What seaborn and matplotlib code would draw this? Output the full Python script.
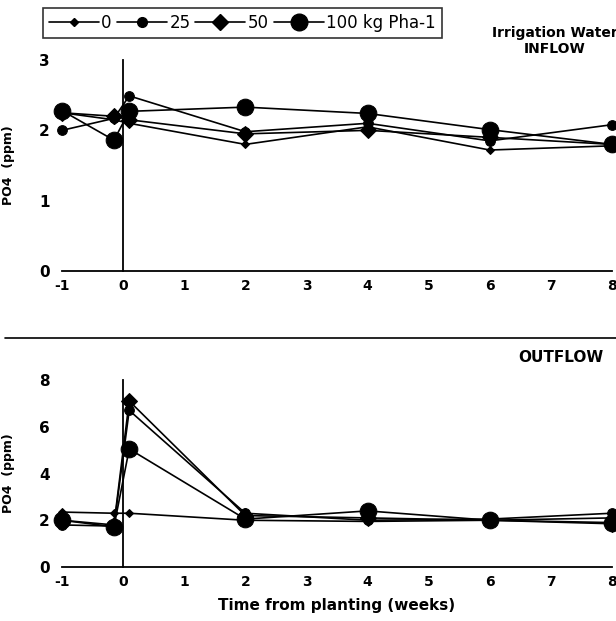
import pandas as pd
import seaborn as sns
import matplotlib.pyplot as plt
from matplotlib.lines import Line2D

# sampling times (weeks from planting)
weeks = [-1, -0.15, 0.1, 2, 4, 6, 8]
doses = ["0", "25", "50", "100 kg Pha-1"]

# irrigation water inflow, PO4 (ppm)
inflow_0 = [2.25, 2.15, 2.10, 1.80, 2.05, 1.72, 1.78]
inflow_25 = [2.00, 2.17, 2.49, 1.98, 2.10, 1.85, 2.08]
inflow_50 = [2.25, 2.20, 2.15, 1.95, 2.00, 1.90, 1.80]
inflow_100 = [2.28, 1.86, 2.27, 2.33, 2.24, 2.01, 1.80]

# outflow, PO4 (ppm)
outflow_0 = [2.35, 2.30, 2.30, 2.00, 1.95, 2.00, 2.10]
outflow_25 = [1.80, 1.75, 6.70, 2.30, 2.00, 2.05, 2.30]
outflow_50 = [2.00, 1.80, 7.10, 2.20, 2.10, 2.00, 1.85]
outflow_100 = [2.00, 1.72, 5.05, 2.05, 2.40, 2.00, 1.90]

x_ticks = list(range(-1, 9))
x_labels = ["-1", "0", "1", "2", "3", "4", "5", "6", "7", "8"]

# marker per dose
markers = {"0": ("D", 4), "25": ("o", 7), "50": ("D", 8), "100 kg Pha-1": ("o", 12)}

sns.set_theme(style="white")
plt.rcParams["font.family"] = ["DejaVu Sans"]
plt.rcParams["text.color"] = "black"
plt.rcParams["axes.labelcolor"] = "black"

fig = plt.figure(figsize=(6.16, 6.21), dpi=100)
ax_in = fig.add_axes([62 / 616, 1 - 271 / 621, 550 / 616, 211 / 621])
ax_out = fig.add_axes([62 / 616, 1 - 567 / 621, 550 / 616, 187 / 621])


def draw_panel(ax, series, ymax, ystep, minor):
    for dose, vals in zip(doses, series):
        m, ms = markers[dose]
        df = pd.DataFrame({"week": weeks, "po4": vals})
        sns.lineplot(data=df, x="week", y="po4", ax=ax, color="black",
                     marker=m, markersize=ms, markeredgecolor="black",
                     linewidth=1.2, clip_on=False, label=dose, legend=False)
    ax.set_xlim(-1, 8)
    ax.set_ylim(0, ymax)
    for s in ("top", "right"):
        ax.spines[s].set_visible(False)
    ax.spines["left"].set_position(("data", 0))
    for s in ("left", "bottom"):
        ax.spines[s].set_color("black")
        ax.spines[s].set_linewidth(1.3)
    ax.set_xticks(x_ticks)
    ax.set_xticklabels(x_labels, fontweight="bold", fontsize=10)
    ax.set_yticks(list(range(0, int(ymax) + 1, ystep)))
    ax.set_yticklabels([str(v) for v in range(0, int(ymax) + 1, ystep)],
                       fontweight="bold", fontsize=11)
    ax.set_yticks(minor, minor=True)
    ax.tick_params(axis="x", direction="in", length=5, width=1.2, colors="black", pad=6)
    ax.tick_params(axis="y", which="both", direction="out", length=3, width=1,
                   colors="black", pad=50)
    ax.set_ylabel("PO4  (ppm)", fontweight="bold", fontsize=9)
    ax.yaxis.set_label_coords(-0.085, 0.5)
    ax.set_xlabel("")
    ax.patch.set_alpha(0)


draw_panel(ax_in, [inflow_0, inflow_25, inflow_50, inflow_100], 3, 1,
           [0.5, 1.5, 2.5])
draw_panel(ax_out, [outflow_0, outflow_25, outflow_50, outflow_100], 8, 2,
           [1, 3, 5, 7])

ax_out.set_xlabel("Time from planting (weeks)", fontweight="bold", fontsize=11,
                  labelpad=6)

fig.text(0.9, 0.958, "Irrigation Water\nINFLOW", ha="center", va="top",
         fontweight="bold", fontsize=10, linespacing=1.2)
fig.text(0.91, 0.425, "OUTFLOW", ha="center", va="center",
         fontweight="bold", fontsize=11)

# separator between panels
fig.add_artist(Line2D([0.008, 1.0], [1 - 338 / 621] * 2, transform=fig.transFigure,
                      color="black", linewidth=1.2))

handles = [Line2D([], [], color="black", marker=markers[d][0], markersize=markers[d][1],
                  linewidth=1.2) for d in doses]
leg = fig.legend(handles, doses, loc="upper left", bbox_to_anchor=(43 / 616, 1 - 8 / 621),
                 ncol=4, frameon=True, fancybox=False, handlelength=3.0,
                 handletextpad=0.15, columnspacing=0.3, borderpad=0.35,
                 fontsize=12, borderaxespad=0)
leg.get_frame().set_edgecolor("black")
leg.get_frame().set_linewidth(1.2)

fig.savefig("out.png", dpi=100)
